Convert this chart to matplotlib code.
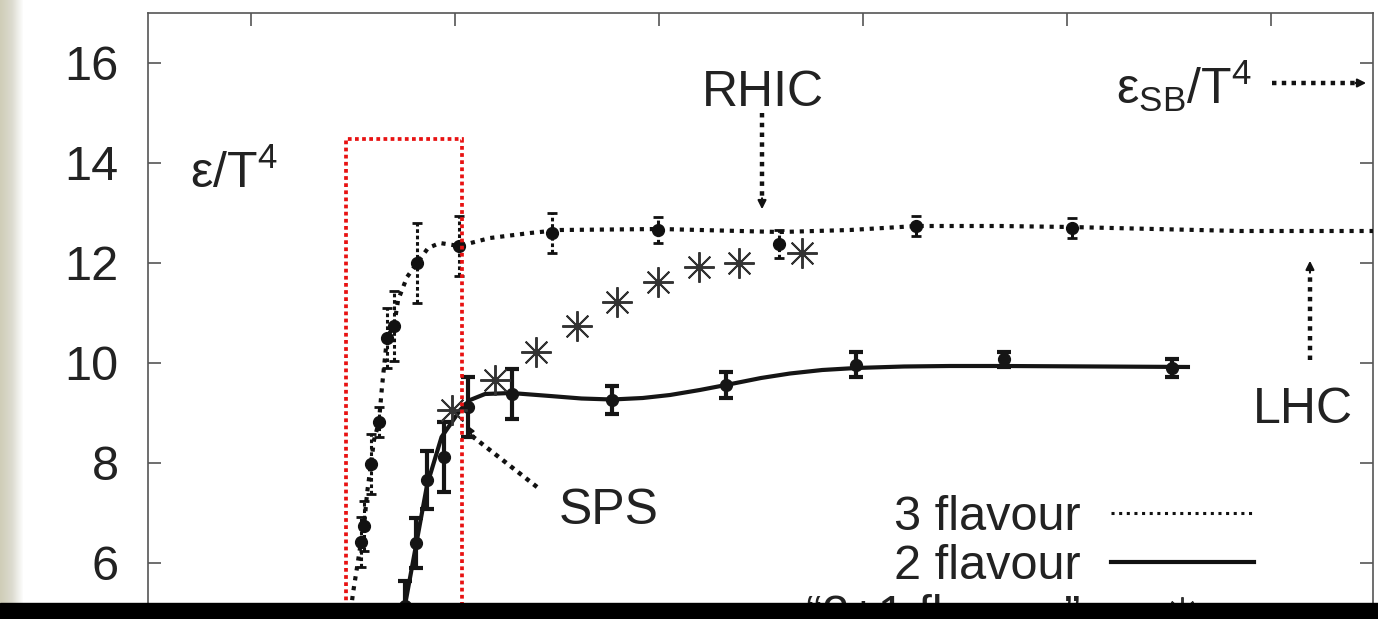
import numpy as np
import matplotlib.pyplot as plt
from matplotlib.lines import Line2D
from matplotlib.patches import Rectangle
from matplotlib.colors import LinearSegmentedColormap

plt.rcParams['font.family'] = ['Liberation Sans', 'DejaVu Sans']
plt.rcParams['mathtext.fontset'] = 'custom'
plt.rcParams['mathtext.rm'] = 'Liberation Sans'
plt.rcParams['mathtext.default'] = 'regular'

# energy density eps/T^4 against temperature T [MeV]
# 3 flavour: lattice points and the dotted fit
T3 = [153.9, 155.4, 158.8, 162.7, 166.7, 170.1, 181.4, 202.0, 247.5, 299.5, 358.8, 426.0, 502.5]
e3 = [6.42, 6.74, 7.98, 8.82, 10.5, 10.74, 12.0, 12.34, 12.6, 12.66, 12.38, 12.74, 12.70]
err3 = [0.5, 0.5, 0.6, 0.3, 0.6, 0.7, 0.8, 0.6, 0.4, 0.26, 0.28, 0.2, 0.2]
T3_fit = [148.0, 150.0, 152.0, 153.9, 155.4, 156.9, 158.8, 160.3, 162.7, 164.2, 166.7, 170.1,
          172.1, 176.5, 181.4, 186.8, 192.6, 202.0, 217.2, 236.8, 251.5, 300.5, 359.3, 393.6,
          426.5, 467.2, 501.5, 584.8, 650.0]
e3_fit = [4.76, 5.4, 5.92, 6.42, 6.74, 7.4, 7.98, 8.46, 8.82, 9.52, 10.52, 10.74,
          11.26, 11.72, 12.0, 12.3, 12.4, 12.34, 12.5, 12.6, 12.66, 12.68, 12.62, 12.66,
          12.74, 12.74, 12.72, 12.64, 12.64]

# 2 flavour
T2 = [175.5, 180.9, 186.3, 194.6, 206.4, 227.9, 276.9, 332.8, 396.6, 469.1, 551.5]
e2 = [5.14, 6.4, 7.66, 8.12, 9.12, 9.38, 9.26, 9.56, 9.96, 10.08, 9.9]
err2 = [0.5, 0.5, 0.58, 0.7, 0.6, 0.5, 0.28, 0.26, 0.25, 0.15, 0.18]
T2_fit = [172.5, 175.5, 180.9, 186.3, 193.4, 198.5, 202.5, 207.4, 214.7, 227.5, 246.6,
          262.0, 277.0, 292.0, 305.4, 320.0, 332.8, 350.0, 364.2, 380.0, 396.6, 420.0,
          442.6, 469.1, 516.2, 560.3]
e2_fit = [4.7, 5.16, 6.36, 7.56, 8.52, 8.82, 9.06, 9.26, 9.38, 9.40, 9.34,
          9.29, 9.27, 9.30, 9.36, 9.46, 9.56, 9.70, 9.79, 9.86, 9.90, 9.93,
          9.94, 9.94, 9.93, 9.92]

# "2+1" flavour
T21 = [198.5, 219.6, 239.7, 259.8, 279.4, 299.5, 319.6, 339.2, 370.1]
e21 = [9.06, 9.66, 10.22, 10.74, 11.22, 11.62, 11.92, 12.0, 12.2]

x_ticks = [100, 200, 300, 400, 500, 600]
y_ticks = [6, 8, 10, 12, 14, 16]

W, H = 1378, 619
fig = plt.figure(figsize=(W / 100, H / 100), dpi=100)

# bit of slide background on the left edge
bg = fig.add_axes([0, 0, 24 / W, 1])
grad = np.linspace(0, 1, 24)[None, :]
bg.imshow(grad, aspect='auto', extent=[0, 1, 0, 1],
          cmap=LinearSegmentedColormap.from_list('edge', ['#cfcdb8', '#dcdbcf', '#ffffff']))
bg.axis('off')

# axes run past the bottom of the figure (lower part is covered)
ax = fig.add_axes([148 / W, (H - 863) / H, 1225 / W, 850 / H])
ax.set_xlim(49.5, 650)
ax.set_ylim(0, 17)
ax.set_facecolor('white')

ax.plot(T3_fit, e3_fit, color='#111111', lw=3.0, ls=(0, (1, 1.4)), dash_capstyle='butt', zorder=3)
eb3 = ax.errorbar(T3, e3, yerr=err3, fmt='o', color='#111111', ms=8.5,
                  elinewidth=2.2, capsize=3.5, capthick=2.0, zorder=4)
eb3[2][0].set_linestyle((0, (1.2, 0.9)))

ax.plot(T2_fit, e2_fit, color='#151515', lw=3.0, solid_capstyle='butt', zorder=3)
ax.errorbar(T2, e2, yerr=err2, fmt='o', color='#151515', ms=8.5,
            elinewidth=3.0, capsize=5, capthick=3.0, zorder=4)

ax.plot(T21, e21, ls='none', marker=(8, 2, 0), ms=22, mew=1.4, color='#333333', zorder=5)

# red box around the transition region
ax.add_patch(Rectangle((146.6, 0), 203.4 - 146.6, 14.48, fill=False, ec='#e81212',
                       lw=2.7, ls=(0, (1, 0.9)), zorder=8))

# collider arrows
arrow_kw = dict(color='#111111', lw=3.2, ls=(0, (1, 1.2)))
head_kw = dict(arrowstyle='-|>,head_length=0.5,head_width=0.25', color='#111111', lw=1.5)
txt_kw = dict(fontsize=36, va='baseline', color='#222222')

ax.plot([350.5, 350.5], [15.0, 13.3], **arrow_kw)
ax.annotate('', xy=(350.5, 13.02), xytext=(350.5, 13.35), arrowprops=head_kw)
ax.text(351, 15.14, 'RHIC', ha='center', **txt_kw)

ax.plot([240.2, 208.0], [7.52, 8.55], **arrow_kw)
ax.annotate('', xy=(204.9, 8.82), xytext=(209.5, 8.45), arrowprops=head_kw)
ax.text(275.5, 6.78, 'SPS', ha='center', **txt_kw)

ax.plot([619.1, 619.1], [10.06, 11.8], **arrow_kw)
ax.annotate('', xy=(619.1, 12.1), xytext=(619.1, 11.75), arrowprops=head_kw)
ax.text(615.7, 8.8, 'LHC', ha='center', **txt_kw)

ax.plot([600.5, 641.0], [15.6, 15.6], **arrow_kw)
ax.annotate('', xy=(648.0, 15.6), xytext=(640.0, 15.6), arrowprops=head_kw)
ax.text(524, 15.18, r'ε$_{SB}$/T$^4$', ha='left', **txt_kw)

ax.text(70.1, 13.5, r'ε/T$^4$', ha='left', **txt_kw)

# gnuplot style key: label first, sample after it
handles = [
    Line2D([], [], color='#111111', lw=2.2, ls=(0, (1, 1.5))),
    Line2D([], [], color='#111111', lw=3.0),
    Line2D([], [], ls='none', marker=(8, 2, 0), ms=22, mew=1.4, color='#333333'),
]
labels = ['3 flavour', '2 flavour', '\u201c2+1 flavour\u201d']
leg = ax.legend(handles, labels, loc='upper right', bbox_to_anchor=(1254 / W, (H - 495) / H),
                bbox_transform=fig.transFigure, frameon=False, markerfirst=False,
                fontsize=35, handlelength=2.95, handletextpad=0.62, labelspacing=0.09,
                borderpad=0, borderaxespad=0)
for t in leg.get_texts():
    t.set_color('#222222')

ax.set_xticks(x_ticks)
ax.set_yticks(y_ticks)
ax.tick_params(direction='in', top=True, right=True, length=9.5, width=1.2,
               color='#555555', labelsize=35, labelcolor='#222222', pad=21)
ax.tick_params(axis='x', labelbottom=False)
for s in ax.spines.values():
    s.set_color('#555555')
    s.set_linewidth(1.2)

# strip along the bottom edge
fig.patches.append(Rectangle((0, 0), 1, 16 / H, transform=fig.transFigure,
                             color='black', zorder=20))

fig.savefig('out.png', dpi=100)
